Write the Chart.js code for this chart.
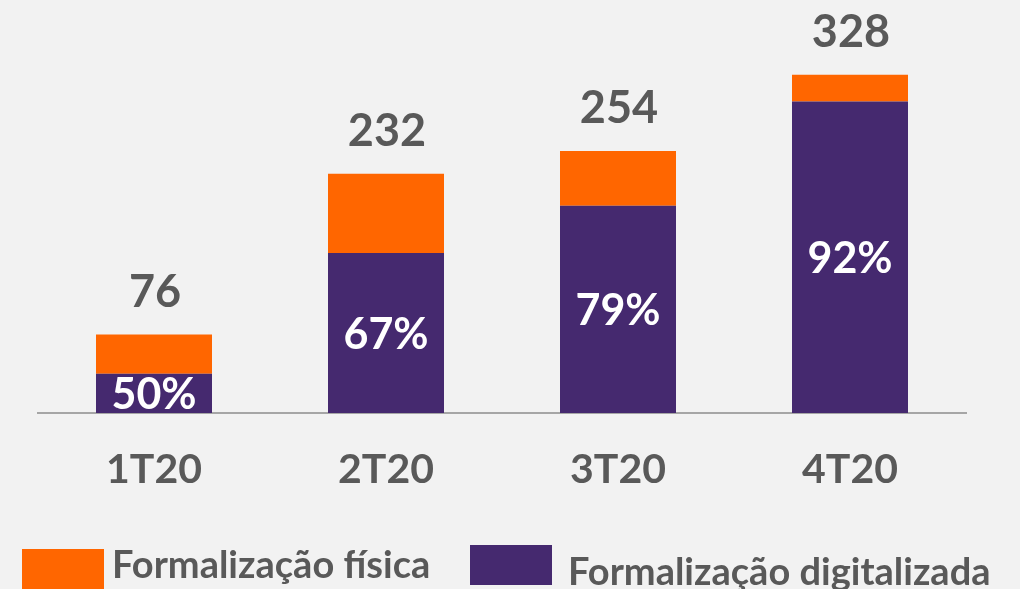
<!DOCTYPE html>
<html>
<head>
<meta charset="utf-8">
<script src="https://cdn.jsdelivr.net/npm/chart.js@4"></script>
<style>
  html, body { margin: 0; padding: 0; background: #f2f2f2; }
  #wrap { width: 1020px; height: 589px; position: relative; }
</style>
</head>
<body>
<div id="wrap"><canvas id="formalizacao-chart"></canvas></div>
<script>
// data
const quarters = ['1T20', '2T20', '3T20', '4T20'];
const digitalizada = [38, 155, 201, 302];
const fisica = [38, 77, 53, 26];
const totals = [76, 232, 254, 328];
const digitalPct = ['50%', '67%', '79%', '92%'];

const ORANGE = '#ff6600';
const PURPLE = '#45296f';
const GREY = '#595959';

// totals above the bars, percentages inside the purple part
const labelsPlugin = {
    id: 'barLabels',
    afterDatasetsDraw(chart) {
        const ctx = chart.ctx;
        const digMeta = chart.getDatasetMeta(0);
        const fisMeta = chart.getDatasetMeta(1);
        ctx.save();
        ctx.textAlign = 'center';
        ctx.textBaseline = 'middle';
        ctx.font = 'bold 45px Lato';
        ctx.fillStyle = GREY;
        fisMeta.data.forEach(function(bar, i) {
            ctx.fillText(String(totals[i]), bar.x + 1, bar.y - 42);
        });
        ctx.fillStyle = '#ffffff';
        ctx.font = 'bold 43px Lato';
        digMeta.data.forEach(function(bar, i) {
            ctx.fillText(digitalPct[i], bar.x, (bar.y + bar.base) / 2 + 2);
        });
        ctx.restore();
    }
};

// legend at the bottom
const legendPlugin = {
    id: 'bottomLegend',
    afterDraw(chart) {
        const ctx = chart.ctx;
        const items = [
            { text: 'Formalização física', color: chart.data.datasets[1].backgroundColor, box: [22, 549], tx: 112, ty: 566 },
            { text: 'Formalização digitalizada', color: chart.data.datasets[0].backgroundColor, box: [470, 545], tx: 568, ty: 573 }
        ];
        ctx.save();
        items.forEach(function(it) {
            ctx.fillStyle = it.color;
            ctx.fillRect(it.box[0], it.box[1], 82, 40);
            ctx.font = 'bold 38px Lato';
            ctx.fillStyle = GREY;
            ctx.textAlign = 'left';
            ctx.textBaseline = 'middle';
            ctx.fillText(it.text, it.tx, it.ty);
        });
        ctx.restore();
    }
};

document.addEventListener('DOMContentLoaded', function() {
    const ctx = document.getElementById('formalizacao-chart').getContext('2d');
    new Chart(ctx, {
        type: 'bar',
        data: {
            labels: quarters,
            datasets: [{
                label: 'Formalização digitalizada',
                data: digitalizada,
                backgroundColor: PURPLE,
                barPercentage: 0.5,
                categoryPercentage: 1
            }, {
                label: 'Formalização física',
                data: fisica,
                backgroundColor: ORANGE,
                barPercentage: 0.5,
                categoryPercentage: 1
            }]
        },
        options: {
            responsive: true,
            maintainAspectRatio: false,
            animation: false,
            layout: { padding: { left: 38, right: 54, top: 21, bottom: 0 } },
            plugins: {
                legend: { display: false },
                tooltip: { enabled: false }
            },
            scales: {
                x: {
                    stacked: true,
                    grid: { display: false, drawTicks: false },
                    border: { display: true, color: '#a6a6a6', width: 2 },
                    ticks: {
                        color: GREY,
                        font: { family: 'Lato', weight: 'bold', size: 41 },
                        padding: 32
                    },
                    afterFit: function(scale) { scale.height = 176; }
                },
                y: {
                    stacked: true,
                    display: false,
                    min: 0,
                    max: 380
                }
            }
        },
        plugins: [labelsPlugin, legendPlugin]
    });
});
</script>
</body>
</html>
